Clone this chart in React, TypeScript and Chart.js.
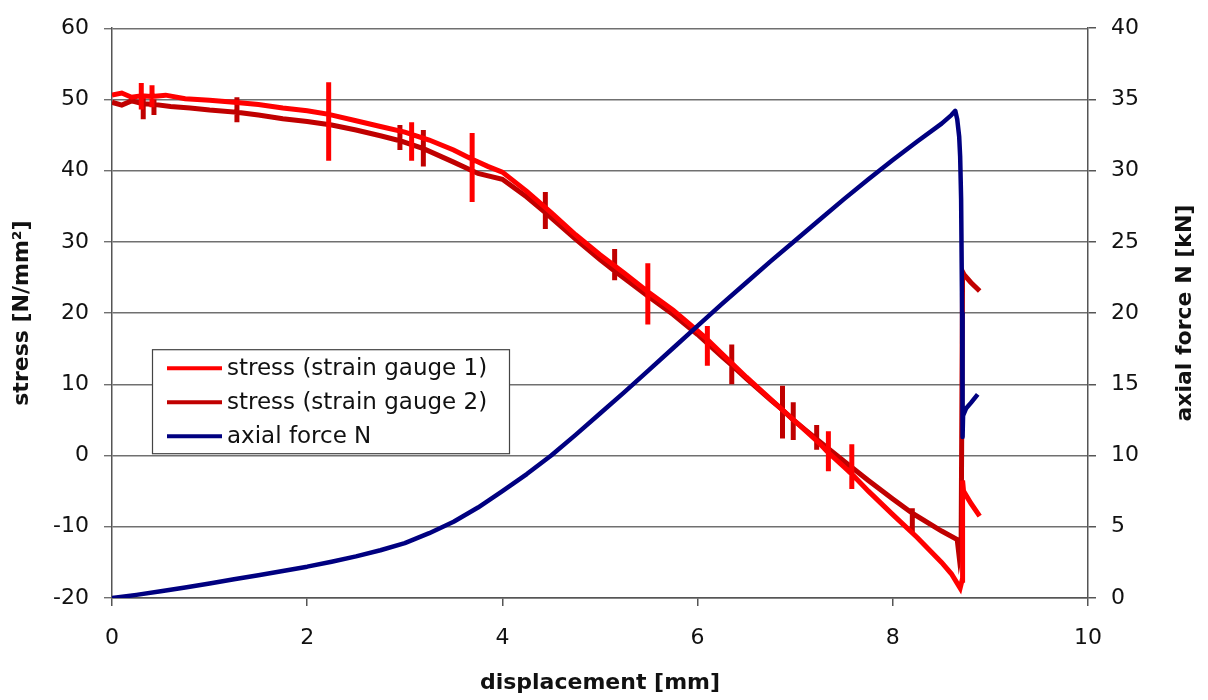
import React, { useEffect, useRef } from "react";
import { Chart, registerables } from "chart.js";

Chart.register(...registerables);

// ---- data ----
const SERIES_LABELS = ["stress (strain gauge 1)", "stress (strain gauge 2)", "axial force N"];
const SERIES_COLORS = ["#ff0000", "#c00000", "#000080"];

// stress, strain gauge 1 [N/mm²] vs displacement [mm]
const G1_X = [
  0.0, 0.1, 0.2, 0.3, 0.3, 0.3, 0.3, 0.41, 0.41, 0.41, 0.41, 0.55, 0.75, 1.0, 1.25, 1.5, 1.75, 2.0,
  2.22, 2.22, 2.22, 2.22, 2.5, 2.75, 3.0, 3.07, 3.07, 3.07, 3.07, 3.25, 3.5, 3.69, 3.69, 3.69, 3.69,
  3.85, 4.0, 4.25, 4.5, 4.75, 5.0, 5.25, 5.49, 5.49, 5.49, 5.49, 5.75, 6.0, 6.1, 6.1, 6.1, 6.1, 6.25,
  6.5, 6.75, 7.0, 7.25, 7.34, 7.34, 7.34, 7.34, 7.5, 7.58, 7.58, 7.58, 7.58, 7.75, 8.0, 8.25, 8.5,
  8.6, 8.69, 8.71, 8.715, 8.725, 8.8, 8.89,
];
const G1_Y = [
  50.6, 50.9, 50.3, 50.5, 52.3, 48.6, 50.5, 50.4, 52.0, 48.9, 50.4, 50.6, 50.1, 49.9, 49.6, 49.3, 48.8, 48.4,
  47.9, 52.4, 41.4, 47.9, 47.0, 46.2, 45.4, 45.1, 46.8, 41.4, 45.1, 44.3, 42.9, 41.6, 45.3, 35.6, 41.6,
  40.6, 39.8, 37.1, 34.1, 31.0, 28.2, 25.6, 23.0, 27.0, 18.4, 23.0, 20.4, 17.5, 16.3, 18.2, 12.6, 16.3, 14.3,
  11.0, 7.9, 4.8, 1.7, 0.4, 3.4, -2.2, 0.4, -1.6, -2.6, 1.6, -4.7, -2.6, -5.0, -8.3, -11.5, -15.0,
  -16.6, -18.6, -17.5, -3.5, -5.0, -6.7, -8.5,
];

// stress, strain gauge 2 [N/mm²]
const G2_X = [
  0.0, 0.1, 0.2, 0.32, 0.32, 0.32, 0.32, 0.43, 0.43, 0.43, 0.43, 0.6, 0.8, 1.0, 1.28, 1.28, 1.28, 1.28,
  1.5, 1.75, 2.0, 2.25, 2.5, 2.75, 2.95, 2.95, 2.95, 2.95, 3.19, 3.19, 3.19, 3.19, 3.5, 3.75, 4.0, 4.25,
  4.44, 4.44, 4.44, 4.44, 4.75, 5.0, 5.15, 5.15, 5.15, 5.15, 5.5, 5.75, 6.0, 6.25, 6.35, 6.35, 6.35, 6.35,
  6.5, 6.75, 6.87, 6.87, 6.87, 6.87, 6.98, 6.98, 6.98, 6.98, 7.22, 7.22, 7.22, 7.22, 7.5, 7.75, 8.0,
  8.2, 8.2, 8.2, 8.2, 8.5, 8.66, 8.68, 8.7, 8.715, 8.73, 8.8, 8.89,
];
const G2_Y = [
  49.6, 49.2, 49.8, 49.4, 50.5, 47.2, 49.4, 49.3, 50.0, 47.8, 49.3, 49.0, 48.8, 48.5, 48.2, 50.3, 46.8, 48.2,
  47.8, 47.3, 46.9, 46.4, 45.7, 44.9, 44.2, 46.4, 42.9, 44.2, 43.1, 45.7, 40.6, 43.1, 41.2, 39.6, 38.8, 36.3,
  34.1, 37.0, 31.8, 34.1, 30.4, 27.5, 25.9, 29.0, 24.6, 25.9, 22.3, 19.8, 17.0, 13.9, 12.7, 15.6, 10.0, 12.7,
  10.8, 7.8, 6.4, 9.8, 2.4, 6.4, 5.0, 7.5, 2.2, 5.0, 2.3, 4.3, 0.8, 2.3, -0.8, -3.5, -6.1,
  -8.1, -7.4, -10.8, -8.1, -10.6, -11.8, -14.2, -12.5, 25.8, 25.4, 24.3, 23.1,
];

// axial force N [kN]
const N_X = [
  0.0, 0.25, 0.5, 0.75, 1.0, 1.25, 1.5, 1.75, 2.0, 2.25, 2.5, 2.75, 3.0, 3.25, 3.5, 3.75, 4.0, 4.25,
  4.5, 4.75, 5.0, 5.25, 5.5, 5.75, 6.0, 6.25, 6.5, 6.75, 7.0, 7.25, 7.5, 7.75, 8.0, 8.25, 8.5, 8.6,
  8.64, 8.66, 8.68, 8.69, 8.7, 8.71, 8.715, 8.72, 8.75, 8.8, 8.87,
];
const N_Y = [
  0.0, 0.22, 0.47, 0.74, 1.02, 1.31, 1.6, 1.9, 2.2, 2.55, 2.92, 3.35, 3.85, 4.55, 5.35, 6.35, 7.5, 8.7,
  10.0, 11.45, 12.95, 14.45, 16.0, 17.55, 19.1, 20.65, 22.15, 23.65, 25.1, 26.55, 28.0, 29.4, 30.75, 32.05, 33.3, 33.9,
  34.2, 33.6, 32.4, 31.0, 28.0, 20.0, 11.3, 12.8, 13.3, 13.7, 14.3,
];

const X_TITLE = "displacement [mm]";
const Y_LEFT_TITLE = "stress [N/mm²]";
const Y_RIGHT_TITLE = "axial force N [kN]";

const zip = (xs: number[], ys: number[]) => xs.map((x, i) => ({ x, y: ys[i] }));

const FONT = "'DejaVu Sans', 'Liberation Sans', sans-serif";

const boxLegend = {
  id: "boxLegend",
  afterDatasetsDraw(chart: any) {
    const { ctx, chartArea } = chart;
    const x0 = chartArea.left + 40;
    const y0 = chartArea.top + 321;
    const w = 357;
    const h = 104;
    ctx.save();
    ctx.fillStyle = "#ffffff";
    ctx.fillRect(x0, y0, w, h);
    ctx.strokeStyle = "#444";
    ctx.lineWidth = 1.2;
    ctx.strokeRect(x0 + 0.5, y0 + 0.5, w, h);
    SERIES_LABELS.forEach((lab, i) => {
      const cy = y0 + 19 + i * 34;
      ctx.strokeStyle = SERIES_COLORS[i];
      ctx.lineWidth = 4;
      ctx.beginPath();
      ctx.moveTo(x0 + 15, cy);
      ctx.lineTo(x0 + 70, cy);
      ctx.stroke();
      ctx.fillStyle = "#111";
      ctx.font = `23px ${FONT}`;
      ctx.textBaseline = "middle";
      ctx.textAlign = "left";
      ctx.fillText(lab, x0 + 75, cy + 1);
    });
    ctx.restore();
  },
};

// right axis title reads bottom-to-top, like the left one
const rightTitle = {
  id: "rightTitle",
  afterDraw(chart: any) {
    const { ctx, chartArea } = chart;
    ctx.save();
    ctx.translate(chart.width - 23, (chartArea.top + chartArea.bottom) / 2);
    ctx.rotate(-Math.PI / 2);
    ctx.fillStyle = "#111";
    ctx.font = `bold 22px ${FONT}`;
    ctx.textAlign = "center";
    ctx.textBaseline = "middle";
    ctx.fillText(Y_RIGHT_TITLE, 0, 0);
    ctx.restore();
  },
};

export default function App() {
  const ref = useRef<HTMLCanvasElement | null>(null);

  useEffect(() => {
    if (!ref.current) return;
    const tickFont = { family: FONT, size: 22 };
    const titleFont = { family: FONT, size: 22, weight: "bold" as const };
    const chart = new Chart(ref.current, {
      type: "line",
      data: {
        datasets: [
          {
            label: SERIES_LABELS[0],
            data: zip(G1_X, G1_Y),
            borderColor: SERIES_COLORS[0],
            backgroundColor: SERIES_COLORS[0],
            borderWidth: 5,
            pointRadius: 0,
            tension: 0,
            yAxisID: "y",
            order: 1,
          },
          {
            label: SERIES_LABELS[1],
            data: zip(G2_X, G2_Y),
            borderColor: SERIES_COLORS[1],
            backgroundColor: SERIES_COLORS[1],
            borderWidth: 5,
            pointRadius: 0,
            tension: 0,
            yAxisID: "y",
            order: 2,
          },
          {
            label: SERIES_LABELS[2],
            data: zip(N_X, N_Y),
            borderColor: SERIES_COLORS[2],
            backgroundColor: SERIES_COLORS[2],
            borderWidth: 4.5,
            pointRadius: 0,
            tension: 0,
            borderJoinStyle: "round",
            yAxisID: "y1",
            order: 0,
          },
        ],
      },
      options: {
        responsive: false,
        maintainAspectRatio: false,
        animation: false,
        layout: { padding: { top: 22, left: 0, right: 0, bottom: 0 } },
        plugins: {
          legend: { display: false },
          tooltip: { enabled: false },
        },
        scales: {
          x: {
            type: "linear",
            min: 0,
            max: 10,
            ticks: { stepSize: 2, color: "#111", font: tickFont, padding: 19, maxRotation: 0 },
            grid: { drawOnChartArea: false, drawTicks: true, tickLength: 8, color: "#555", lineWidth: 1.5 },
            border: { display: true, color: "#555", width: 1.5 },
            title: { display: true, text: X_TITLE, color: "#111", font: titleFont, padding: { top: 0, bottom: 4 } },
            afterFit: (s: any) => {
              s.height = 102;
            },
          },
          y: {
            type: "linear",
            position: "left",
            min: -20,
            max: 60,
            ticks: { stepSize: 10, color: "#111", font: tickFont, padding: 15 },
            grid: { color: "#707070", lineWidth: 1.4, tickLength: 8, drawTicks: true },
            border: { display: true, color: "#555", width: 1.5 },
            title: { display: true, text: Y_LEFT_TITLE, color: "#111", font: titleFont, padding: { top: 9, bottom: 0 } },
            afterFit: (s: any) => {
              s.width = 112;
            },
          },
          y1: {
            type: "linear",
            position: "right",
            min: 0,
            max: 40,
            ticks: { stepSize: 5, color: "#111", font: tickFont, padding: 15 },
            grid: { drawOnChartArea: false, tickLength: 8, color: "#555", lineWidth: 1.5 },
            border: { display: true, color: "#555", width: 1.5 },
            title: { display: false, text: Y_RIGHT_TITLE },
            afterFit: (s: any) => {
              s.width = 120;
            },
          },
        },
      },
      plugins: [boxLegend, rightTitle],
    });
    return () => chart.destroy();
  }, []);

  return (
    <div style={{ position: "absolute", left: 0, top: 0, width: 1208, height: 700, background: "#fff" }}>
      <canvas ref={ref} width={1208} height={700} style={{ display: "block" }} />
    </div>
  );
}
